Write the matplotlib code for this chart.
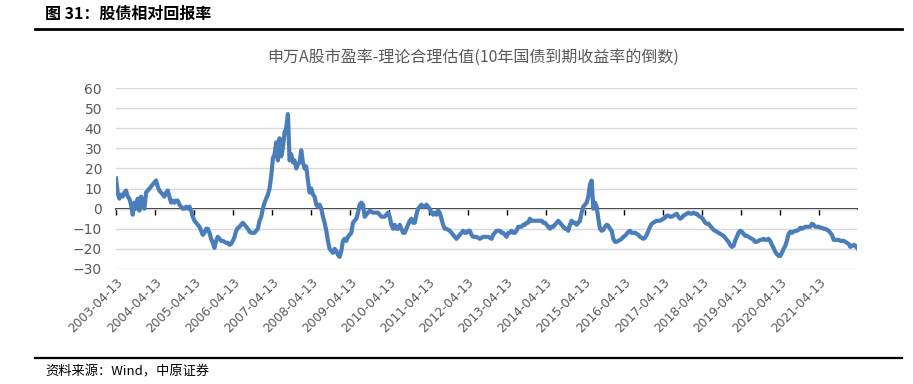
import numpy as np
import pandas as pd
import matplotlib
matplotlib.use("Agg")
import matplotlib.pyplot as plt
import matplotlib.dates as mdates
from matplotlib.lines import Line2D

plt.rcParams['font.family'] = ['DejaVu Sans', 'Noto Sans CJK SC']

# 申万A股市盈率 - 理论合理估值, semi-monthly readings, 2003-04 .. 2022-04
values_2003_2008 = [
    15, 8, 5, 7, 6, 8, 9, 6, 5, 2,
    -3, 3, 0, 5, -1, 6, 3, 0, 8, 9,
    10, 11, 12, 13, 14, 11, 9, 8, 7, 6,
    8, 9, 6, 3, 4, 3, 4, 4, 2, 1,
    0, 0, 1, 0, 1, -1, -4, -6, -7, -8,
    -9, -11, -13, -12, -10, -10, -12, -15, -17, -19.5,
    -16, -14, -15, -16, -16, -16.5, -17, -17, -18, -17.5,
    -16, -14, -11, -9.5, -9, -8, -7, -8, -9, -10,
    -11.5, -12, -12, -12, -11, -10, -6, -4, 0, 3,
    5, 7, 10, 16, 25, 27, 33, 24, 35, 26,
    30, 38, 40, 47, 24, 27, 23, 24, 20, 22,
    23, 29, 23, 20, 21, 14, 8, 10, 7, 6,
    2, 1, 2, 0, -4, -7, -11, -16, -20,
]
values_2008_2016 = [
    -21, -22, -20, -21, -23, -24, -21, -16, -15, -16,
    -14, -13, -12, -7, -6, -5, -2, 2, 3, 2,
    -4, -3, -2, -1, -1.5, -2, -2, -2, -2, -3,
    -4, -4, -4, -3, -2, -4, -8, -10, -8, -10,
    -10, -8, -10, -12, -12, -10, -8, -6, -5, -7,
    -7, -3, 0, 1, 2, 1, 1, 2, 1, 0,
    -2, -3, -2, -3, -1, -2, -5, -8, -10, -10,
    -10.5, -11, -12, -13, -14, -15, -14, -13, -12, -11,
    -12, -12, -11, -11, -13, -14, -14, -14, -14.5, -15,
    -14.5, -14, -14, -14, -14, -14.5, -15, -13, -12, -11,
    -11, -11, -12, -12, -13, -14, -12, -12, -11, -12,
    -12, -11, -9, -9, -9, -8, -8, -7, -7, -5,
    -6, -6, -6, -6, -6, -6, -6, -7, -7, -8,
    -9, -10, -9, -9, -8, -7, -6, -7, -8, -9,
    -10, -10, -11, -8, -6, -7, -7, -8, -7, -6,
    -2, 1, 2, 3, 6, 12, 14, 0, 3, 1,
    -5, -10,
]
values_2016_2022 = [
    -11, -10.5, -9, -8, -8.5, -10, -11, -15, -16.5, -16.5,
    -16, -15.5, -15, -14, -13.5, -12.5, -11.5, -11, -12, -12,
    -12, -12.5, -13, -14, -14.5, -15, -14.5, -13, -11, -9,
    -7.5, -7, -6.5, -6, -6, -6, -5.5, -5, -4.5, -3.5,
    -3.5, -4, -4, -3.5, -3, -2.5, -4, -5, -4.5, -3.5,
    -3, -2.5, -2, -2.5, -2.5, -2, -2.5, -2.5, -3.5, -4,
    -4.5, -5.5, -7, -7.5, -7.5, -8.5, -9.5, -10.5, -11, -11.5,
    -12, -12.5, -13, -13.5, -14.5, -15.5, -16.5, -18, -19, -18.5,
    -16, -14, -12, -11, -11.5, -12.5, -13.5, -13.5, -14, -14.5,
    -15, -15.5, -16.5, -16.5, -16, -15.5, -15.5, -15, -15.5, -15.5,
    -15, -16, -18, -19.5, -21.5, -22.5, -23.5, -23.5, -22, -20,
    -18.5, -16, -12.5, -11.5, -12, -11.5, -11, -11, -10.5, -9.5,
    -10, -9.5, -9, -9, -9, -9, -7.5, -8, -9, -9,
    -9, -9.5, -9.5, -10, -10, -10.5, -11, -12, -13, -15.5,
    -15.5, -15.5, -15.5, -16, -16, -16, -16.5, -17, -17.5, -19,
    -18.5, -18, -18.5, -19.5,
]
values = values_2003_2008 + values_2008_2016 + values_2016_2022

start_date = "2003-04-13"
end_date = "2022-04-01"
tick_years = list(range(2003, 2022))
tick_labels = [f"{y}-04-13" for y in tick_years]

dates = pd.date_range(start_date, end_date, periods=len(values))
x = mdates.date2num(dates)
tick_pos = mdates.date2num([pd.Timestamp(t) for t in tick_labels])

W, H = 913, 384
fig = plt.figure(figsize=(W / 100, H / 100), dpi=100)
ax = fig.add_axes([116 / W, 1 - 269 / H, 741 / W, 181 / H])

ax.plot(x, values, color='#4a7ebb', lw=3.0, solid_joinstyle='round', zorder=3)
ax.set_xlim(x[0], x[-1])
ax.set_ylim(-30, 60)
ax.set_yticks(range(-30, 61, 10))
ax.grid(axis='y', color='#d9d9d9', lw=1)
ax.set_axisbelow(True)
for s in ax.spines.values():
    s.set_visible(False)
ax.tick_params(axis='y', length=0, labelsize=10, labelcolor='#595959', pad=10)
ax.set_xticks(tick_pos)
ax.set_xticklabels(tick_labels, rotation=45, ha='right', rotation_mode='anchor',
                   fontsize=8.8, color='#595959')
ax.tick_params(axis='x', length=0, pad=5)

# category axis drawn through zero
sec = ax.secondary_xaxis(30 / 90)
sec.set_xticks(tick_pos)
sec.tick_params(axis='x', length=4, width=1, color='black', labelbottom=False, labeltop=False)
for s in sec.spines.values():
    s.set_color('black')
    s.set_linewidth(1.2)

cjk = ['Noto Sans CJK SC', 'DejaVu Sans']
fig.text(473 / W, 1 - 57 / H, "申万A股市盈率-理论合理估值(10年国债到期收益率的倒数)",
         ha='center', va='center', fontsize=11.5, color='#595959', family=cjk)
fig.text(45 / W, 1 - 14 / H, "图 31：股债相对回报率", ha='left', va='center',
         fontsize=11.5, weight='bold', color='black', family=cjk)
fig.text(45 / W, 1 - 372 / H, "资料来源：Wind，中原证券", ha='left', va='center',
         fontsize=9.5, color='black', family=cjk)
fig.add_artist(Line2D([35 / W, 902 / W], [1 - 28.5 / H] * 2, color='black', lw=2))
fig.add_artist(Line2D([35 / W, 902 / W], [1 - 357.5 / H] * 2, color='black', lw=1.6))

plt.savefig("out.png", dpi=100)
